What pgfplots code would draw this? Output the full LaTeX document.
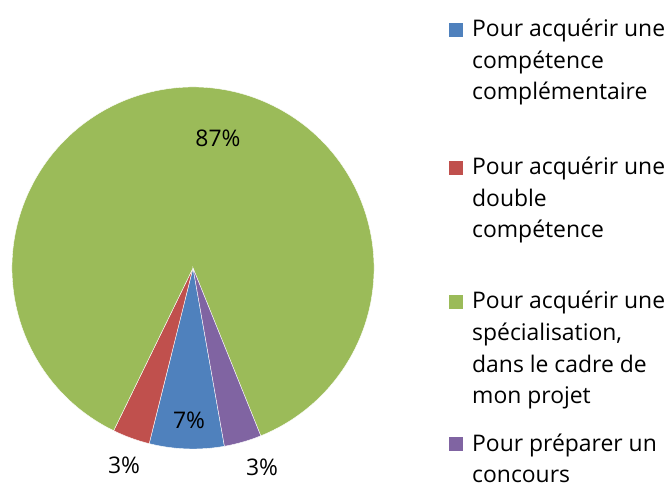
\documentclass[border=0pt]{standalone}
\usepackage{pgfplots}
\usepackage{pgfplotstable}
\pgfplotsset{compat=1.18}
\usepackage{fontspec}
\setmainfont{Open Sans}
\definecolor{blueS}{HTML}{4F81BD}
\definecolor{redS}{HTML}{C0504D}
\definecolor{greenS}{HTML}{9BBB59}
\definecolor{purpleS}{HTML}{8064A2}
\pgfplotstableread{
share
6.67
3.33
86.67
3.33
}\piedata
\newcommand\leglines[1]{\vtop{\fontsize{22.9}{31.5}\selectfont #1}}
\begin{document}
\begin{tikzpicture}
\pgfplotstablegetelem{0}{share}\of\piedata \let\vA\pgfplotsretval
\pgfplotstablegetelem{1}{share}\of\piedata \let\vB\pgfplotsretval
\pgfplotstablegetelem{2}{share}\of\piedata \let\vC\pgfplotsretval
\pgfplotstablegetelem{3}{share}\of\piedata \let\vD\pgfplotsretval
\pgfmathsetmacro\aO{280}
\pgfmathsetmacro\aA{\aO-3.6*\vA}
\pgfmathsetmacro\aB{\aA-3.6*\vB}
\pgfmathsetmacro\aC{\aB-3.6*\vC}
\pgfmathsetmacro\aD{\aC-3.6*\vD}
\begin{axis}[
  name=ax,
  width=668pt, height=487pt, scale only axis,
  xmin=0, xmax=668, ymin=0, ymax=487,
  xtick=\empty, ytick=\empty,
  hide axis, clip=false,
]
\fill[blueS, draw=white, line width=0.4pt] (axis cs:193,219) -- ++(\aO:181pt) arc[start angle=\aO, end angle=\aA, radius=181pt] -- cycle;
\fill[redS, draw=white, line width=0.4pt] (axis cs:193,219) -- ++(\aA:181pt) arc[start angle=\aA, end angle=\aB, radius=181pt] -- cycle;
\fill[greenS, draw=white, line width=0.4pt] (axis cs:193,219) -- ++(\aB:181pt) arc[start angle=\aB, end angle=\aC, radius=181pt] -- cycle;
\fill[purpleS, draw=white, line width=0.4pt] (axis cs:193,219) -- ++(\aC:181pt) arc[start angle=\aC, end angle=\aD, radius=181pt] -- cycle;
% percentage labels
\tikzset{lab/.style={font=\fontsize{22.9}{27}\selectfont, inner sep=0pt}}
\node[lab] at (axis cs:218,349) {87\%};
\node[lab] at (axis cs:189,67) {7\%};
\node[lab] at (axis cs:124,22) {3\%};
\node[lab] at (axis cs:262,20) {3\%};
% legend
\tikzset{leg/.style={inner sep=0pt, anchor=base west}}
\fill[blueS] (axis cs:449,450) rectangle (axis cs:463,464);
\node[leg] at (axis cs:472,450) {\leglines{\hbox{Pour acquérir une}\hbox{compétence}\hbox{complémentaire}}};
\fill[redS] (axis cs:449,312) rectangle (axis cs:463,326);
\node[leg] at (axis cs:472,312) {\leglines{\hbox{Pour acquérir une}\hbox{double}\hbox{compétence}}};
\fill[greenS] (axis cs:449,178) rectangle (axis cs:463,192);
\node[leg] at (axis cs:472,178) {\leglines{\hbox{Pour acquérir une}\hbox{spécialisation,}\hbox{dans le cadre de}\hbox{mon projet}}};
\fill[purpleS] (axis cs:449,36) rectangle (axis cs:463,50);
\node[leg] at (axis cs:472,36) {\leglines{\hbox{Pour préparer un}\hbox{concours}}};
\end{axis}
\pgfresetboundingbox
\path (ax.south west) rectangle (ax.north east);
\end{tikzpicture}
\end{document}
